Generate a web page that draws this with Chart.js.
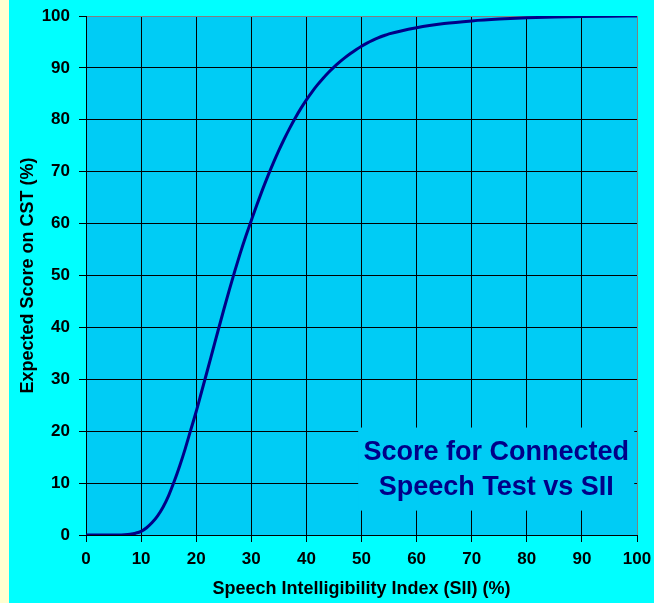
<!DOCTYPE html>
<html>
<head>
<meta charset="utf-8">
<script src="https://cdn.jsdelivr.net/npm/chart.js@4.4.0/dist/chart.umd.min.js"></script>
<style>
  html, body { margin: 0; padding: 0; background: #00ffff; }
  #wrap { width: 654px; height: 603px; position: relative; }
</style>
</head>
<body>
<div id="wrap"><canvas id="myChart"></canvas></div>
<script>
// SII (%) and expected CST score (%)
var sii = [0, 1, 2, 3, 4, 5, 6, 7, 8, 9, 10, 11, 12, 13, 14, 15, 16, 17, 18, 19, 20,
  21, 22, 23, 24, 25, 26, 27, 28, 29, 30, 31, 32, 33, 34, 35, 36, 37, 38, 39, 40,
  41, 42, 43, 44, 45, 46, 47, 48, 49, 50, 51, 52, 53, 54, 55, 60, 65, 70, 75, 80, 85, 90, 95, 100];
var cstScore = [0, 0, 0, 0, 0, 0, 0, 0.05, 0.15, 0.35, 0.7, 1.4, 2.4, 3.7, 5.4, 7.6, 10.3, 13.3, 16.6, 20.2, 23.8,
  27.7, 31.6, 35.55, 39.5, 43.4, 47.2, 50.85, 54.3, 57.55, 60.6, 63.6, 66.45, 69.15, 71.7, 74.1, 76.35, 78.45, 80.4, 82.2, 83.85,
  85.35, 86.72, 87.97, 89.11, 90.15, 91.1, 91.97, 92.77, 93.5, 94.17, 94.77, 95.3, 95.77, 96.19, 96.56,
  97.75, 98.55, 99.05, 99.4, 99.65, 99.8, 99.9, 99.96, 100];
var xTicks = [0, 10, 20, 30, 40, 50, 60, 70, 80, 90, 100];
var yTicks = [0, 10, 20, 30, 40, 50, 60, 70, 80, 90, 100];
var boxLines = ["Score for Connected", "Speech Test vs SII"];

var plotColor = "#00ccf5";
var navy = "#000088";
var fontFamily = "'Liberation Sans', Arial, sans-serif";

// background, plot fill and the text box
const bgPlugin = {
  id: "bg",
  beforeDraw(chart) {
    const ctx = chart.ctx;
    const a = chart.chartArea;
    ctx.save();
    ctx.fillStyle = "#00ffff";
    ctx.fillRect(0, 0, chart.width, chart.height);
    ctx.fillStyle = "#ffffd0";
    ctx.fillRect(0, 0, 9, chart.height);
    ctx.fillStyle = plotColor;
    ctx.fillRect(a.left, a.top, a.right - a.left, a.bottom - a.top);
    ctx.restore();
  },
  beforeDatasetsDraw(chart) {
    const ctx = chart.ctx;
    const a = chart.chartArea;
    const w = a.right - a.left, h = a.bottom - a.top;
    const bx = a.left + w * 0.494, by = a.top + h * 0.793;
    const bw = w * 0.501, bh = h * 0.16;
    ctx.save();
    ctx.fillStyle = plotColor;
    ctx.fillRect(bx, by, bw, bh);
    ctx.fillStyle = navy;
    ctx.font = "bold 27px " + fontFamily;
    ctx.textAlign = "center";
    ctx.textBaseline = "middle";
    ctx.fillText(boxLines[0], bx + bw / 2, by + bh * 0.3);
    ctx.fillText(boxLines[1], bx + bw / 2, by + bh * 0.72);
    ctx.restore();
  }
};

var ctx = document.getElementById("myChart").getContext("2d");

new Chart(ctx, {
  type: "line",
  data: {
    labels: sii,
    datasets: [{
      data: sii.map((x, i) => ({ x: x, y: cstScore[i] })),
      borderColor: navy,
      borderWidth: 3,
      pointRadius: 0,
      cubicInterpolationMode: "monotone",
      fill: false
    }]
  },
  options: {
    responsive: true,
    maintainAspectRatio: false,
    animation: false,
    layout: { padding: { top: 16, right: 17, left: 0, bottom: 0 } },
    plugins: { legend: { display: false }, tooltip: { enabled: false } },
    scales: {
      x: {
        type: "linear",
        min: 0,
        max: 100,
        afterBuildTicks: (s) => { s.ticks = xTicks.map(v => ({ value: v })); },
        afterFit: (s) => { s.height = 68; s.paddingLeft = 0; s.paddingRight = 0; },
        grid: {
          color: (c) => c.tick && c.tick.value === 100 ? "#808080" : "#000000",
          tickColor: "#000000",
          tickLength: 7,
          lineWidth: 1
        },
        border: { color: "#000000" },
        ticks: {
          color: "#000000",
          padding: 7,
          maxRotation: 0,
          font: { family: fontFamily, size: 17, weight: "bold" }
        },
        title: {
          display: true,
          text: "Speech Intelligibility Index (SII) (%)",
          color: "#000000",
          padding: { top: 0, bottom: 3 },
          font: { family: fontFamily, size: 18, weight: "bold" }
        }
      },
      y: {
        min: 0,
        max: 100,
        afterBuildTicks: (s) => { s.ticks = yTicks.map(v => ({ value: v })); },
        afterFit: (s) => { s.width = 86; s.paddingTop = 0; s.paddingBottom = 0; },
        grid: {
          color: (c) => c.tick && c.tick.value === 100 ? "#808080" : "#000000",
          tickColor: "#000000",
          tickLength: 7,
          lineWidth: 1
        },
        border: { color: "#000000" },
        ticks: {
          color: "#000000",
          padding: 9,
          font: { family: fontFamily, size: 17, weight: "bold" }
        },
        title: {
          display: true,
          text: "Expected Score on CST (%)",
          color: "#000000",
          padding: { top: 17, bottom: 0 },
          font: { family: fontFamily, size: 18, weight: "bold" }
        }
      }
    }
  },
  plugins: [bgPlugin]
});
</script>
</body>
</html>
